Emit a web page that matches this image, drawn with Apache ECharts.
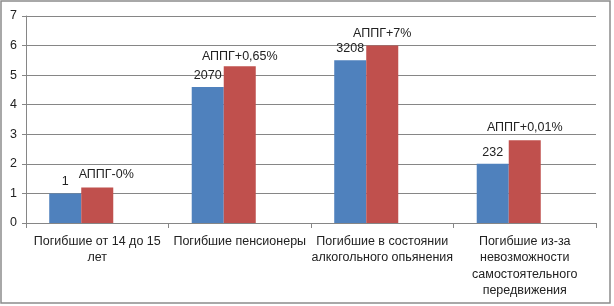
<!DOCTYPE html>
<html>
<head>
	<meta charset="utf-8">
	<script src="https://cdn.jsdelivr.net/npm/echarts@6/dist/echarts.min.js"></script>
	<style>
		html, body { margin: 0; padding: 0; background: #fff; }
		#main { width: 614px; height: 306px; }
	</style>
</head>
<body>
<div id="main"></div>
<script type="text/javascript">
	var categories = [
		'Погибшие от 14 до 15\nлет',
		'Погибшие пенсионеры',
		'Погибшие в состоянии\nалкогольного опьянения',
		'Погибшие из-за\nневозможности\nсамостоятельного\nпередвижения'
	];
	var blueValues = [1, 4.6, 5.5, 2];
	var redValues = [1.2, 5.3, 6, 2.8];
	var emptyValues = [null, null, null, null]; // третий ряд пустой, но место под него есть
	var blueLabels = ['1', '2070', '3208', '232'];
	var redLabels = ['АППГ-0%', 'АППГ+0,65%', 'АППГ+7%', 'АППГ+0,01%'];
	var yTicks = [0, 1, 2, 3, 4, 5, 6, 7];

	var fontFamily = 'Liberation Sans, Arial, sans-serif';
	var redOffsets = [[9, 0], [0, 3], [0, 0], [0, 0]];

	var myChart = echarts.init(document.getElementById('main'));

	var option = {
		animation: false,
		textStyle: {fontFamily: fontFamily},
		graphic: [{
			type: 'rect',
			shape: {x: 1, y: 1, width: 609, height: 302},
			style: {fill: 'none', stroke: '#8c8c8c', lineWidth: 1.5},
			silent: true
		}],
		grid: {left: 26, right: 18, top: 16, bottom: 83},
		xAxis: {
			type: 'category',
			data: categories,
			axisLine: {lineStyle: {color: '#868686'}},
			axisTick: {show: true, length: 5, lineStyle: {color: '#868686'}},
			axisLabel: {
				color: '#222',
				fontSize: 12.5,
				lineHeight: 16.5,
				margin: 10,
				interval: 0
			}
		},
		yAxis: {
			type: 'value',
			min: yTicks[0],
			max: yTicks[yTicks.length - 1],
			interval: 1,
			axisLine: {show: true, lineStyle: {color: '#868686'}},
			axisTick: {show: true, length: 4, lineStyle: {color: '#868686'}},
			splitLine: {lineStyle: {color: '#868686'}},
			axisLabel: {color: '#222', fontSize: 12.5, margin: 9}
		},
		series: [
			{
				name: 'Ряд 1',
				type: 'bar',
				barGap: 0,
				barCategoryGap: '32.6%',
				itemStyle: {color: '#4F81BD'},
				data: blueValues.map(function (v, i) {
					return {
						value: v,
						label: {
							show: true,
							position: 'top',
							distance: 5,
							formatter: blueLabels[i],
							color: '#222',
							fontSize: 12.5
						}
					};
				})
			},
			{
				name: 'Ряд 2',
				type: 'bar',
				barGap: 0,
				barCategoryGap: '32.6%',
				itemStyle: {color: '#C0504D'},
				data: redValues.map(function (v, i) {
					return {
						value: v,
						label: {
							show: true,
							position: 'top',
							distance: 6,
							offset: redOffsets[i],
							formatter: redLabels[i],
							color: '#222',
							fontSize: 12.5
						}
					};
				})
			},
			{
				name: 'Ряд 3',
				type: 'bar',
				barGap: 0,
				barCategoryGap: '32.6%',
				data: emptyValues
			}
		]
	};
	myChart.setOption(option);
</script>
</body>
</html>
